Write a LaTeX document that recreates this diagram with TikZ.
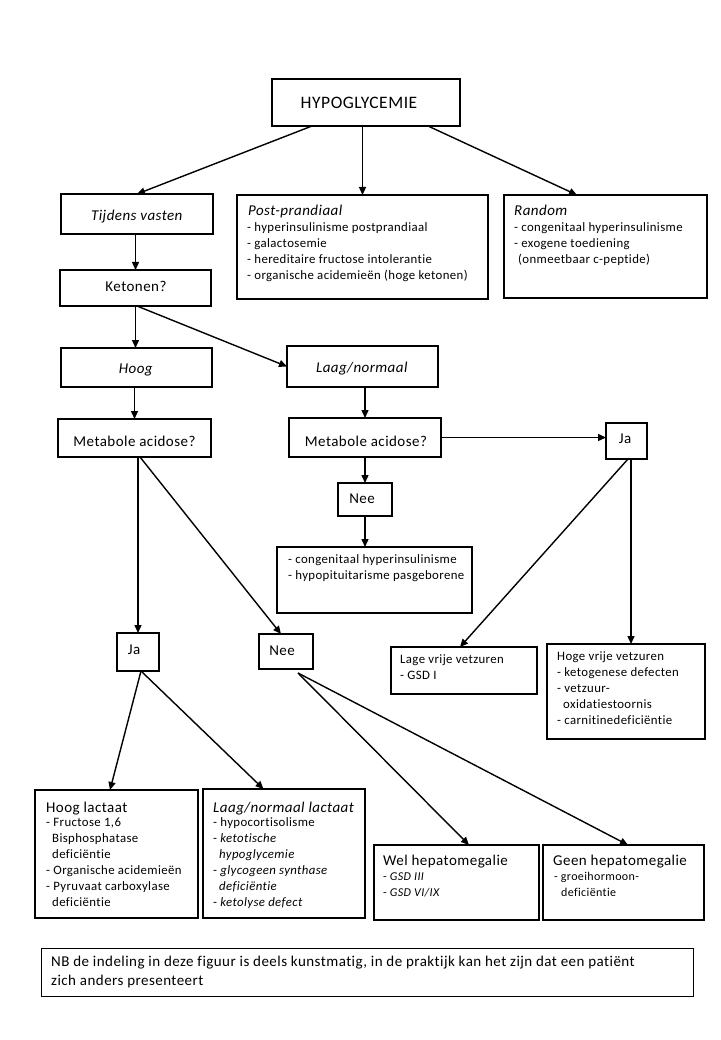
\documentclass[tikz,border=0pt]{standalone}
\usepackage{fontspec}
\setmainfont{Carlito}[LetterSpace=3,Ligatures={NoCommon}]
\usetikzlibrary{arrows.meta}
\tikzset{
  box/.style={draw, line width=1.8pt, inner sep=0pt, outer sep=0pt, anchor=north west},
  nbbox/.style={draw, line width=0.9pt, inner sep=0pt, outer sep=0pt, anchor=north west},
  lbl/.style={anchor=base, inner sep=0pt, font=\fontsize{15}{18}\selectfont},
  head/.style={anchor=base west, inner sep=0pt, font=\fontsize{15}{18}\selectfont},
  lst/.style={anchor=north west, inner sep=0pt, align=left, font=\fontsize{12.8}{16}\selectfont},
  lsts/.style={anchor=north west, inner sep=0pt, align=left, font=\fontsize{12}{16.5}\selectfont},
  arr/.style={line width=1.4pt, -{Triangle[length=8pt,width=7pt]}},
}
\begin{document}
\begin{tikzpicture}[x=1pt,y=-1pt]
\useasboundingbox[fill=white] (0,0) rectangle (720,1040);

% boxes
\node[box, minimum width=188pt, minimum height=47pt] (hypo) at (272,79) {};
\node[box, minimum width=152pt, minimum height=40pt] (tijdens) at (61,194) {};
\node[box, minimum width=251pt, minimum height=104pt] (post) at (237,195) {};
\node[box, minimum width=203pt, minimum height=103pt] (random) at (504,195) {};
\node[box, minimum width=151pt, minimum height=36pt] (ketonen) at (60,270) {};
\node[box, minimum width=151pt, minimum height=39pt] (hoog) at (61,348) {};
\node[box, minimum width=151pt, minimum height=41pt] (laag) at (287,346) {};
\node[box, minimum width=153pt, minimum height=38pt] (mal) at (58,419) {};
\node[box, minimum width=152pt, minimum height=39pt] (mar) at (289,418) {};
\node[box, minimum width=41pt, minimum height=36pt] (jar) at (606,423) {};
\node[box, minimum width=54pt, minimum height=33pt] (neem) at (338,483) {};
\node[box, minimum width=195pt, minimum height=66pt] (cong) at (277,547) {};
\node[box, minimum width=42pt, minimum height=38pt] (jal) at (117,633) {};
\node[box, minimum width=54pt, minimum height=35pt] (nel) at (259,634) {};
\node[box, minimum width=146pt, minimum height=47pt] (lage) at (391,647) {};
\node[box, minimum width=158pt, minimum height=95pt] (hoge) at (547,644) {};
\node[box, minimum width=163pt, minimum height=128pt] (hl) at (35,790) {};
\node[box, minimum width=162pt, minimum height=129pt] (ll) at (203,789) {};
\node[box, minimum width=165pt, minimum height=75pt] (wel) at (374,845) {};
\node[box, minimum width=161pt, minimum height=75pt] (geen) at (543,845) {};
\node[nbbox, minimum width=652pt, minimum height=48pt] (nb) at (41,948) {};

% single labels
\node[lbl, font=\fontsize{17.5}{21}\selectfont] (hypoT) at (359,109) {HYPOGLYCEMIE};
\node[lbl] (tijdensT) at (137,221) {\textit{Tijdens vasten}};
\node[lbl] (ketonenT) at (136,291) {Ketonen?};
\node[lbl] (hoogT) at (136,373) {\textit{Hoog}};
\node[lbl] (laagT) at (362,372) {\textit{Laag/normaal}};
\node[lbl] (malT) at (134.5,446) {Metabole acidose?};
\node[lbl] (marT) at (366,446) {Metabole acidose?};
\node[lbl] (jarT) at (625,443) {Ja};
\node[lbl] (neemT) at (362,503) {Nee};
\node[lbl] (jalT) at (134,654) {Ja};
\node[lbl] (nelT) at (282,655) {Nee};

% headings
\node[head] (postH) at (248,216) {\textit{Post-prandiaal}};
\node[head] (randomH) at (514,216) {\textit{Random}};
\node[head] (hlH) at (46,812) {Hoog lactaat};
\node[head] (llH) at (213,812) {\textit{Laag/normaal lactaat}};
\node[head] (welH) at (383,865) {Wel hepatomegalie};
\node[head] (geenH) at (553,865) {Geen hepatomegalie};

% lists
\node[lst] (postL) at (247,219.8) {\strut- hyperinsulinisme postprandiaal\\- galactosemie\\- hereditaire fructose intolerantie\\- organische acidemieën (hoge ketonen)};
\node[lst] (randomL) at (514,219.8) {\strut- congenitaal hyperinsulinisme\\- exogene toediening\\\hspace*{4pt}(onmeetbaar c-peptide)};
\node[lst] (congL) at (288,551.8) {\strut- congenitaal hyperinsulinisme\\- hypopituitarisme pasgeborene};
\node[lst] (lageL) at (400,651.8) {\strut Lage vrije vetzuren\\- GSD I};
\node[lst] (hogeL) at (557,648.8) {\strut Hoge vrije vetzuren\\- ketogenese defecten\\- vetzuur-\\\hspace*{6pt}oxidatiestoornis\\- carnitinedeficiëntie};
\node[lst] (hlL) at (46,814.8) {\strut- Fructose 1,6\\\hspace*{6pt}Bisphosphatase\\\hspace*{6pt}deficiëntie\\- Organische acidemieën\\- Pyruvaat carboxylase\\\hspace*{6pt}deficiëntie};
\node[lst] (llL) at (213,814.8) {\strut- hypocortisolisme\\- \textit{ketotische}\\\hspace*{6pt}\textit{hypoglycemie}\\- \textit{glycogeen synthase}\\\hspace*{6pt}\textit{deficiëntie}\\- \textit{ketolyse defect}};
\node[lsts] (welL) at (383,868.5) {\strut- \textit{GSD III}\\- \textit{GSD VI/IX}};
\node[lsts] (geenL) at (554,868.5) {\strut- groeihormoon-\\\hspace*{7pt}deficiëntie};
\node[anchor=north west, inner sep=0pt, align=left, font=\fontsize{15}{19}\selectfont] (nbT) at (51,953.3) {\strut NB de indeling in deze figuur is deels kunstmatig, in de praktijk kan het zijn dat een patiënt\\zich anders presenteert};

% connectors
\draw[arr] ([xshift=-54pt]hypo.south) -- (tijdens.north);
\draw[arr] (hypo.south -| post.north) -- (post.north);
\draw[arr] ([xshift=62pt]hypo.south) -- ([xshift=-28.5pt]random.north);
\draw[arr] (ketonen.north |- tijdens.south) -- (ketonen.north);
\draw[arr] (ketonen.south) -- (ketonen.south |- hoog.north);
\draw[arr] ([xshift=1.5pt]ketonen.south) -- (laag.west);
\draw[arr] (mal.north |- hoog.south) -- (mal.north);
\draw[arr] (mar.north |- laag.south) -- (mar.north);
\draw[arr] (mar.east) -- (mar.east -| jar.west);
\draw[arr] (mar.south -| neem.north) -- (neem.north);
\draw[arr] (neem.south) -- (neem.south |- cong.north);
\draw[arr] ([xshift=1.5pt]jar.south) -- ([xshift=-4pt]lage.north);
\draw[arr] ([xshift=4.5pt]jar.south) -- ([xshift=4.5pt]jar.south |- hoge.north);
\draw[arr] (jal.north |- mal.south) -- (jal.north);
\draw[arr] ([xshift=5.5pt]mal.south) -- ([xshift=-5pt]nel.north);
\draw[arr] ([xshift=3pt]jal.south) -- ([xshift=-6.5pt]hl.north);
\draw[arr] ([xshift=3pt]jal.south) -- ([xshift=-20.5pt]ll.north);
\draw[arr] ([xshift=12pt,yshift=-4pt]nel.south) -- ([xshift=12.5pt]wel.north);
\draw[arr] ([xshift=12pt,yshift=-4pt]nel.south) -- ([xshift=4.5pt]geen.north);
\end{tikzpicture}
\end{document}
